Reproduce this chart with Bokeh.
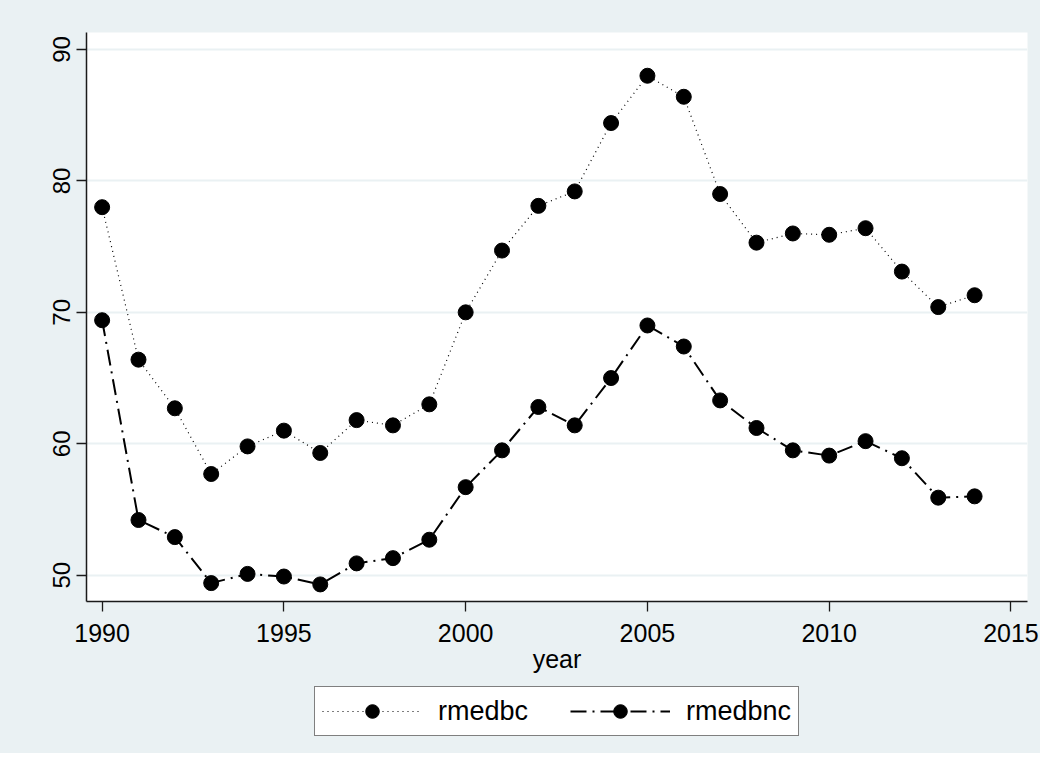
from bokeh.plotting import figure
from bokeh.models import FixedTicker, Legend, LegendItem, Range1d
from bokeh.layouts import column
from bokeh.embed import file_html
from bokeh.resources import INLINE

years = list(range(1990, 2015))
rmedbc = [78.0, 66.4, 62.7, 57.7, 59.8, 61.0, 59.3, 61.8, 61.4, 63.0,
          70.0, 74.7, 78.1, 79.2, 84.4, 88.0, 86.4, 79.0, 75.3, 76.0,
          75.9, 76.4, 73.1, 70.4, 71.3]
rmedbnc = [69.4, 54.2, 52.9, 49.4, 50.1, 49.9, 49.3, 50.9, 51.3, 52.7,
           56.7, 59.5, 62.8, 61.4, 65.0, 69.0, 67.4, 63.3, 61.2, 59.5,
           59.1, 60.2, 58.9, 55.9, 56.0]
x_ticks = [1990, 1995, 2000, 2005, 2010, 2015]
y_ticks = [50, 60, 70, 80, 90]
series_names = ["rmedbc", "rmedbnc"]

BG = "#EAF1F3"
FONT = "Liberation Sans"
W = 1040

DOT = dict(line_color="black", line_width=1.2, line_dash="1 4")
DASHDOT = dict(line_color="black", line_width=2, line_dash="16 6 2 6")
MARK = dict(size=15, fill_color="black", line_color="black")

# ---------------- main plot ----------------
p = figure(width=W, height=680, output_backend="svg", toolbar_location=None,
           x_range=Range1d(1989.57, 2015.455), y_range=Range1d(48.0, 91.29),
           min_border_left=86, min_border_right=13, min_border_top=32,
           min_border_bottom=79)
p.border_fill_color = BG
p.background_fill_color = "white"
p.outline_line_color = None

p.xgrid.grid_line_color = None
p.ygrid.grid_line_color = BG
p.ygrid.grid_line_width = 2
p.ygrid.ticker = FixedTicker(ticks=y_ticks)

p.xaxis.ticker = FixedTicker(ticks=x_ticks)
p.yaxis.ticker = FixedTicker(ticks=y_ticks)
for ax in (p.xaxis[0], p.yaxis[0]):
    ax.axis_line_color = "#1a1a1a"
    ax.axis_line_width = 1.5
    ax.major_tick_line_color = "#1a1a1a"
    ax.major_tick_line_width = 1.3
    ax.major_tick_out = 10
    ax.major_tick_in = 0
    ax.minor_tick_line_color = None
    ax.major_label_text_font = FONT
    ax.major_label_text_font_size = "25px"
    ax.major_label_text_color = "black"
    ax.axis_label_text_font = FONT
    ax.axis_label_text_font_size = "25px"
    ax.axis_label_text_font_style = "normal"
    ax.axis_label_text_color = "black"

p.yaxis.major_label_orientation = "vertical"
p.yaxis.major_label_text_font_size = "24px"
p.yaxis.major_label_standoff = 6
p.xaxis.major_label_standoff = 12
p.xaxis.axis_label = "year"
p.xaxis.axis_label_standoff = 0

p.line(years, rmedbc, **DOT)
p.scatter(years, rmedbc, **MARK)
p.line(years, rmedbnc, **DASHDOT)
p.scatter(years, rmedbnc, **MARK)

# ---------------- legend strip ----------------
lg = figure(width=W, height=73, output_backend="svg", toolbar_location=None,
            x_range=Range1d(1989.57, 2015.455), y_range=Range1d(0, 1),
            x_axis_location=None, y_axis_location=None, min_border=0)
lg.border_fill_color = BG
lg.background_fill_color = BG
lg.outline_line_color = None
lg.grid.visible = False

# same series, outside this strip's visible range: only their legend keys show
k1 = lg.line(years, rmedbc, **DOT)
m1 = lg.scatter(years, rmedbc, **MARK)
k2 = lg.line(years, rmedbnc, **DASHDOT)
m2 = lg.scatter(years, rmedbnc, **MARK)

legend = Legend(
    items=[LegendItem(label=series_names[0], renderers=[k1, m1]),
           LegendItem(label=series_names[1], renderers=[k2, m2])],
    orientation="horizontal", location=(228, 17),
    glyph_width=100, glyph_height=34,
    label_text_font=FONT, label_text_font_size="27px", label_text_color="black",
    label_standoff=16, spacing=42, padding=7, margin=0,
    border_line_color="black", border_line_width=1.2,
    background_fill_color="white", background_fill_alpha=1.0,
)
lg.add_layout(legend, "center")

layout = column(p, lg, spacing=0, styles={"background-color": BG})
open("out.html", "w").write(file_html(layout, INLINE))
